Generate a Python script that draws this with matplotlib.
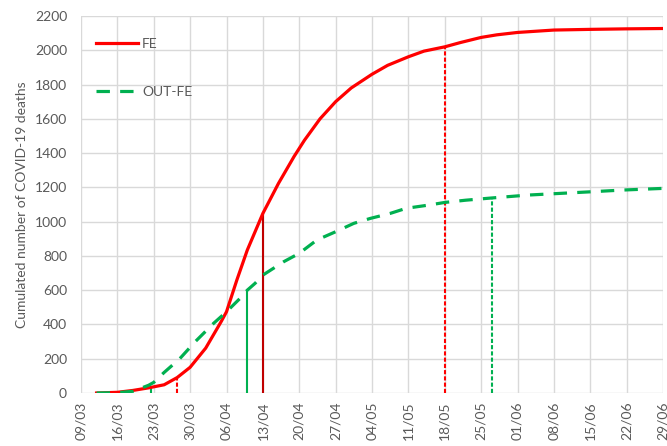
import matplotlib
matplotlib.use('Agg')
import matplotlib.pyplot as plt
import numpy as np

plt.rcParams['font.family'] = ['Lato', 'DejaVu Sans']

# days counted from 09/03
fe_days = [3, 7, 10, 13, 16, 18.5, 21, 24, 27, 28, 30, 32, 35, 38, 41, 43, 46, 49,
           52, 56, 59, 63, 66, 70, 73, 77, 80, 84, 91, 98, 105, 112]
fe_deaths = [0, 4, 15, 30, 48, 90, 150, 262, 418, 474, 660, 834, 1048, 1223, 1380,
             1475, 1600, 1700, 1780, 1860, 1912, 1962, 1995, 2020, 2045, 2075, 2090,
             2104, 2118, 2122, 2125, 2127]

out_days = [3, 7, 10, 13, 14, 16, 19, 22, 25.5, 28, 30.6, 32, 33.5, 35, 39, 42, 45.4,
            49, 52.5, 55.7, 59.5, 62.6, 67, 70, 74, 79, 86, 98, 104, 112]
out_deaths = [0, 2, 10, 45, 62, 120, 200, 300, 406, 474, 552, 600, 640, 688, 766, 815,
              893, 941, 990, 1019, 1048, 1078, 1097, 1112, 1125, 1138, 1155, 1174, 1184,
              1194]

tick_days = list(range(0, 113, 7))
tick_labels = ['09/03', '16/03', '23/03', '30/03', '06/04', '13/04', '20/04', '27/04',
               '04/05', '11/05', '18/05', '25/05', '01/06', '08/06', '15/06', '22/06',
               '29/06']

# marker lines: (day, height)
fe_solid = (35, 1048)
fe_dashed = [(18.5, 90), (70, 2020)]
out_solid = [(13.5, 42), (32, 600)]
out_dashed = (79, 1138)

RED = '#FF0000'
DARKRED = '#C00000'
GREEN = '#00B050'
GRAY = '#595959'

fig = plt.figure(figsize=(6.67, 4.46), dpi=100)
ax = fig.add_axes([81 / 667, 1 - 393 / 446, (663 - 81) / 667, (393 - 16) / 446])

ax.plot(fe_days, fe_deaths, color=RED, lw=2.3, label='FE', zorder=4)
ax.plot(out_days, out_deaths, color=GREEN, lw=2.3, dashes=(4.2, 3.2),
        label='OUT-FE', zorder=4)

ax.vlines(fe_solid[0], 0, fe_solid[1], color=DARKRED, lw=1.5, zorder=3)
for d, h in fe_dashed:
    ax.vlines(d, 0, h, color=RED, lw=1.5, linestyles=(0, (2, 1)), zorder=3)
for d, h in out_solid:
    ax.vlines(d, 0, h, color=GREEN, lw=1.5, zorder=3)
ax.vlines(out_dashed[0], 0, out_dashed[1], color=GREEN, lw=1.5,
          linestyles=(0, (2, 1)), zorder=3)

ax.set_xlim(0, 112)
ax.set_ylim(0, 2200)
ax.set_xticks(tick_days)
ax.set_xticklabels(tick_labels, rotation=90)
ax.set_yticks(range(0, 2201, 200))
ax.tick_params(length=0, labelsize=10, colors=GRAY)
ax.tick_params(axis='y', pad=10)
ax.tick_params(axis='x', pad=6)
ax.grid(True, color='#D9D9D9', lw=1)
ax.set_axisbelow(True)
for s in ax.spines.values():
    s.set_visible(False)

ax.set_ylabel('Cumulated number of COVID-19 deaths', fontsize=10, color=GRAY, labelpad=5)

leg = ax.legend(loc='upper left', bbox_to_anchor=(0.005, 0.975), frameon=False,
                fontsize=10, handlelength=3.0, labelspacing=2.6, handletextpad=0.3)
for t in leg.get_texts():
    t.set_color(GRAY)

fig.savefig('out.png', dpi=100, facecolor='white')
